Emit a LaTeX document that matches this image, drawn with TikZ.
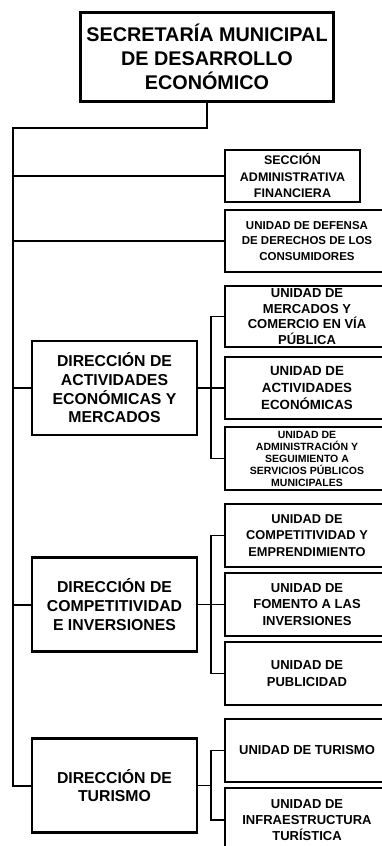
\documentclass[tikz,border=0pt]{standalone}
\usepackage{fontspec}
\setmainfont{Liberation Sans}
\begin{document}
\begin{tikzpicture}[x=1pt,y=-1pt,
  topbox/.style={draw, line width=2.8pt, inner sep=0pt, minimum width=253pt, minimum height=89pt, align=center, font=\fontsize{19.8}{24}\selectfont\bfseries},
  dirbox/.style={draw, line width=2.6pt, inner sep=0pt, minimum width=165pt, minimum height=94pt, align=center, font=\fontsize{15.8}{18.7}\selectfont\bfseries},
  unitbox/.style={draw, line width=1.5pt, inner sep=0pt, minimum width=164pt, align=center, font=\fontsize{13}{16.3}\selectfont\bfseries},
  mainline/.style={line width=2pt},
  subline/.style={line width=1.4pt}]
\useasboundingbox (0,0) rectangle (381,846);

% top
\node[topbox] (top) at (207,57) {SECRETARÍA MUNICIPAL\\DE DESARROLLO\\ECONÓMICO};

% staff units
\node[unitbox, minimum width=135pt, minimum height=52pt, font=\fontsize{12.5}{16.5}\selectfont\bfseries] (secc) at (292.5,176) {SECCIÓN\\ADMINISTRATIVA\\FINANCIERA};
\node[unitbox, minimum height=62pt, font=\fontsize{11.5}{15.8}\selectfont\bfseries] (defe) at (307,241) {UNIDAD DE DEFENSA\\DE DERECHOS DE LOS\\CONSUMIDORES};

% direccion actividades
\node[dirbox] (dirA) at (114.5,388) {DIRECCIÓN DE\\ACTIVIDADES\\ECONÓMICAS Y\\MERCADOS};
\node[unitbox, minimum height=61pt, font=\fontsize{13}{15.8}\selectfont\bfseries] (merc) at (307,316.5) {UNIDAD DE\\MERCADOS Y\\COMERCIO EN VÍA\\PÚBLICA};
\node[unitbox, minimum height=62pt, font=\fontsize{13.3}{16.7}\selectfont\bfseries] (acti) at (307,388) {UNIDAD DE\\ACTIVIDADES\\ECONÓMICAS};
\node[unitbox, minimum height=63pt, font=\fontsize{10.5}{12}\selectfont\bfseries] (admi) at (307,458.5) {UNIDAD DE\\ADMINISTRACIÓN Y\\SEGUIMIENTO A\\SERVICIOS PÚBLICOS\\MUNICIPALES};

% direccion competitividad
\node[dirbox] (dirC) at (114.5,604.5) {DIRECCIÓN DE\\COMPETITIVIDAD\\E INVERSIONES};
\node[unitbox, minimum height=63pt, font=\fontsize{12.8}{16.3}\selectfont\bfseries] (comp) at (307,535.5) {UNIDAD DE\\COMPETITIVIDAD Y\\EMPRENDIMIENTO};
\node[unitbox, minimum height=63pt] (fome) at (307,604.5) {UNIDAD DE\\FOMENTO A LAS\\INVERSIONES};
\node[unitbox, minimum height=63pt] (publ) at (307,673.5) {UNIDAD DE\\PUBLICIDAD};

% direccion turismo
\node[dirbox] (dirT) at (114.5,785.5) {DIRECCIÓN DE\\TURISMO};
\node[unitbox, minimum height=63pt] (utur) at (307,750.5) {UNIDAD DE TURISMO};
\node[unitbox, minimum height=64pt] (infr) at (307,820) {UNIDAD DE\\INFRAESTRUCTURA\\TURÍSTICA};

% main connectors
\coordinate (mainTop) at (13,128);
\draw[mainline] (top.south) -- (top.south |- mainTop) -- (mainTop) -- (mainTop |- dirT.west) -- (dirT.west);
\draw[subline] (secc.west) -- (secc.west -| mainTop);
\draw[subline] (defe.west) -- (defe.west -| mainTop);
\draw[mainline] (dirA.west) -- (dirA.west -| mainTop);
\draw[mainline] (dirC.west) -- (dirC.west -| mainTop);

% sub buses
\coordinate (bus) at (211,0);
\draw[subline] (merc.west) -- (merc.west -| bus) -- (admi.west -| bus) -- (admi.west);
\draw[subline] (dirA.east) -- (acti.west);
\draw[subline] (comp.west) -- (comp.west -| bus) -- (publ.west -| bus) -- (publ.west);
\draw[subline] (dirC.east) -- (fome.west);
\draw[subline] (utur.west) -- (utur.west -| bus) -- (infr.west -| bus) -- (infr.west);
\draw[subline] (dirT.east) -- (dirT.east -| bus);
\end{tikzpicture}
\end{document}
